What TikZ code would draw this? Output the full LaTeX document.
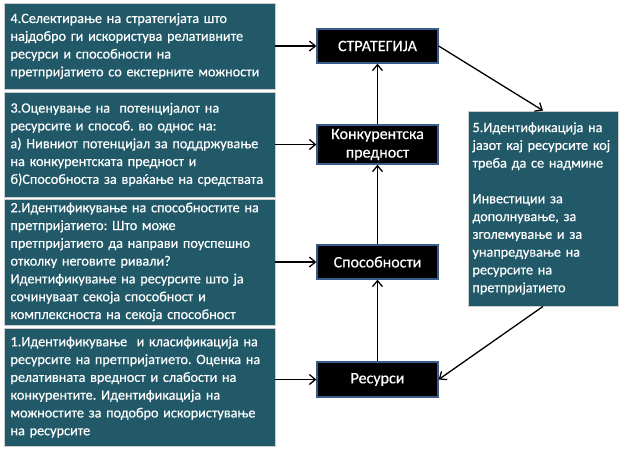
\documentclass[tikz,border=0pt]{standalone}
\usepackage{fontspec}
\setmainfont[FakeBold=0.4]{Carlito}
\frenchspacing
\usetikzlibrary{arrows.meta}
\definecolor{stepteal}{HTML}{215968}
\definecolor{edgeblue}{HTML}{385D8A}
\tikzset{stepbox/.style = {fill=stepteal, draw=white!80!black, line width=0.8pt, text=white, align=left, inner sep=0pt,
    font=\fontsize{14.2}{17.8}\selectfont}}
\tikzset{keybox/.style = {fill=black, draw=edgeblue, line width=1.3pt, text=white, align=center, inner sep=0pt,
    minimum width=121pt, font=\fontsize{16}{18.5}\selectfont}}
\tikzset{flow/.style = {-{Straight Barb[length=6pt, width=10pt]}, line width=1.3pt}}

\begin{document}
\begin{tikzpicture}[x=1pt, y=-1pt]
\useasboundingbox (0,0) rectangle (625,451);
\node[stepbox, minimum width=271pt, minimum height=86pt, text width=258pt] (step4) at (139.5,46)
  {4.Селектирање на стратегијата што\\најдобро ги искористува релативните\\ресурси и способности на\\претпријатието со екстерните можности};
\node[stepbox, minimum width=271pt, minimum height=105pt, text width=258pt] (step3) at (139.5,144.5)
  {3.Оценување на \ потенцијалот на\\ресурсите и способ. во однос на:\\а) Нивниот потенцијал за поддржување\\на конкурентската предност и\\б)Способноста за враќање на средствата};
\node[stepbox, minimum width=271pt, minimum height=126pt, text width=258pt] (step2) at (139.5,262)
  {2.Идентификување на способностите на\\претпријатието: Што може\\претпријатието да направи поуспешно\\отколку неговите ривали?\\Идентификување на ресурсите што ја\\сочинуваат секоја способност и\\комплексноста на секоја способност};
\node[stepbox, minimum width=271pt, minimum height=118pt, text width=258pt] (step1) at (139.5,387)
  {1.Идентификување \ и класификација на\\ресурсите на претпријатието. Оценка на\\релативната вредност и слабости на\\конкурентите. Идентификација на\\можностите за подобро искористување\\на ресурсите};
\node[stepbox, minimum width=150pt, minimum height=195pt, text width=141pt] (gap) at (543,208.5)
  {5.Идентификација на\\јазот кај ресурсите кој\\треба да се надмине\\[17.8pt]Инвестиции за\\дополнување, за\\зголемување и за\\унапредување на\\ресурсите на\\претпријатието};

\node[keybox, minimum height=34pt] (strat) at (377.5,46) {СТРАТЕГИЈА};
\node[keybox, minimum height=39pt] (adv) at (377.5,144.5) {Конкурентска\\предност};
\node[keybox, minimum height=34pt] (cap) at (377.5,262) {Способности};
\node[keybox, minimum height=35pt] (res) at (377.5,379.5) {Ресурси};

\draw[flow] (step4.east) -- (strat.west);
\draw[flow] (step3.east) -- (adv.west);
\draw[flow] (step2.east) -- (cap.west);
\draw[flow] (step1.east |- res.west) -- (res.west);
\draw[flow] (res.north) -- (cap.south);
\draw[flow] (cap.north) -- (adv.south);
\draw[flow] (adv.north) -- (strat.south);
\draw[flow] (strat.east) -- (gap.north);
\draw[flow] (gap.south) -- (res.east);
\end{tikzpicture}
\end{document}
